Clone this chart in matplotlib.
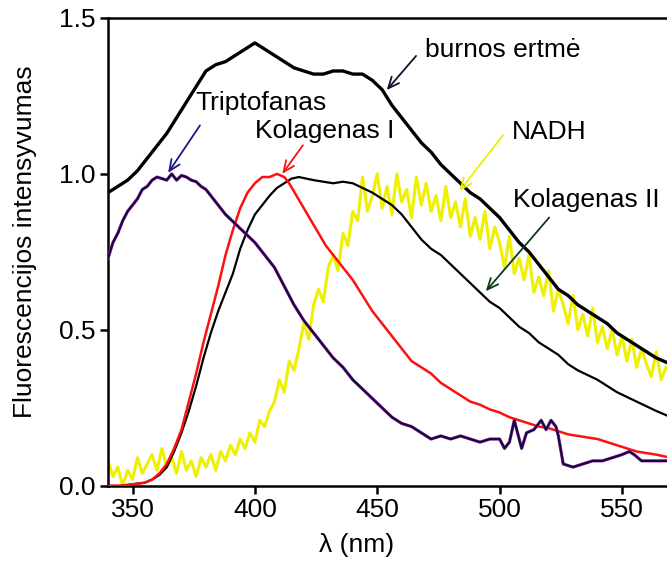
import matplotlib
matplotlib.use("Agg")
import matplotlib.pyplot as plt

plt.rcParams['font.family'] = ['Liberation Sans', 'DejaVu Sans']

# burnos ertme (thick black)
burnos_x = [340, 344, 348, 352, 356, 360, 364, 368, 372, 376, 380, 384, 388, 392, 396, 400,
            404, 408, 412, 416, 420, 424, 428, 432, 436, 440, 444, 448, 452, 456, 460, 464,
            468, 472, 476, 480, 484, 488, 492, 496, 500, 504, 508, 512, 516, 520, 524, 528,
            532, 536, 540, 544, 548, 552, 556, 560, 564, 570]
burnos_y = [0.94, 0.96, 0.98, 1.01, 1.05, 1.09, 1.13, 1.18, 1.23, 1.28, 1.33, 1.35, 1.36, 1.38, 1.40, 1.42,
            1.40, 1.38, 1.36, 1.34, 1.33, 1.32, 1.32, 1.33, 1.33, 1.32, 1.32, 1.30, 1.27, 1.22, 1.18, 1.14,
            1.10, 1.07, 1.03, 1.00, 0.97, 0.94, 0.92, 0.89, 0.86, 0.82, 0.78, 0.75, 0.71, 0.67, 0.63, 0.61,
            0.58, 0.56, 0.54, 0.52, 0.49, 0.47, 0.45, 0.43, 0.41, 0.39]

# Triptofanas (navy)
trp_x = [340, 342, 344, 346, 348, 350, 352, 354, 356, 358, 360, 364, 366, 368, 370, 372, 374, 376,
         378, 380, 382, 384, 388, 392, 396, 400, 404, 408, 412, 416, 420, 424, 428, 432, 436, 440,
         444, 448, 452, 456, 460, 464, 468, 472, 476, 480, 484, 488, 492, 496, 500, 502, 504, 506,
         508, 509, 511, 514, 517, 519, 521, 523, 524, 526, 530, 534, 538, 542, 546, 550, 553, 555,
         558, 562, 570]
trp_y = [0.73, 0.78, 0.81, 0.85, 0.88, 0.90, 0.92, 0.95, 0.96, 0.98, 0.99, 0.98, 1.00, 0.98, 0.995, 0.99, 0.98, 0.975,
         0.96, 0.95, 0.93, 0.91, 0.87, 0.84, 0.81, 0.78, 0.74, 0.70, 0.64, 0.58, 0.53, 0.49, 0.45, 0.41, 0.38, 0.34,
         0.31, 0.28, 0.25, 0.22, 0.20, 0.19, 0.17, 0.15, 0.16, 0.15, 0.16, 0.15, 0.14, 0.15, 0.15, 0.12, 0.14, 0.21,
         0.15, 0.12, 0.17, 0.18, 0.21, 0.18, 0.21, 0.19, 0.16, 0.07, 0.06, 0.07, 0.08, 0.08, 0.09, 0.10, 0.11, 0.10,
         0.08, 0.08, 0.08]

# Kolagenas I (red)
kol1_x = [340, 345, 350, 355, 358, 361, 364, 367, 370, 373, 376, 379, 382, 385, 388, 391, 394, 397,
          400, 403, 406, 409, 412, 414, 417, 420, 423, 426, 429, 432, 436, 440, 444, 448, 452, 456,
          460, 464, 468, 472, 476, 480, 484, 488, 492, 496, 500, 504, 508, 512, 516, 520, 524, 528,
          532, 536, 540, 544, 548, 552, 556, 560, 564, 570]
kol1_y = [0.00, 0.00, 0.005, 0.01, 0.02, 0.04, 0.07, 0.12, 0.18, 0.27, 0.36, 0.46, 0.55, 0.64, 0.74, 0.82, 0.89, 0.94,
          0.97, 0.99, 0.99, 1.00, 0.99, 0.97, 0.93, 0.89, 0.85, 0.81, 0.77, 0.74, 0.70, 0.66, 0.61, 0.56, 0.52, 0.48,
          0.44, 0.40, 0.38, 0.36, 0.33, 0.31, 0.29, 0.27, 0.26, 0.245, 0.235, 0.22, 0.21, 0.20, 0.19, 0.185, 0.175, 0.165,
          0.16, 0.155, 0.15, 0.14, 0.13, 0.12, 0.11, 0.105, 0.10, 0.09]

# Kolagenas II (thin black)
kol2_x = [340, 345, 350, 355, 358, 361, 364, 367, 370, 373, 376, 379, 382, 385, 388, 391, 394, 397,
          400, 403, 406, 409, 412, 415, 418, 421, 424, 428, 432, 436, 440, 444, 448, 452, 456, 460,
          464, 468, 472, 476, 480, 484, 488, 492, 496, 500, 504, 508, 512, 516, 520, 524, 528, 532,
          536, 540, 544, 548, 552, 556, 560, 564, 570]
kol2_y = [0.00, 0.00, 0.005, 0.01, 0.02, 0.035, 0.06, 0.11, 0.17, 0.24, 0.32, 0.41, 0.49, 0.56, 0.62, 0.68, 0.76, 0.82,
          0.87, 0.90, 0.93, 0.955, 0.97, 0.985, 0.99, 0.985, 0.98, 0.975, 0.97, 0.975, 0.97, 0.955, 0.94, 0.92, 0.90, 0.87,
          0.83, 0.79, 0.76, 0.74, 0.71, 0.68, 0.65, 0.62, 0.59, 0.57, 0.54, 0.51, 0.49, 0.46, 0.44, 0.42, 0.39, 0.37,
          0.355, 0.34, 0.32, 0.30, 0.285, 0.27, 0.255, 0.24, 0.22]

# NADH (yellow, noisy), one value every 2 nm from 340 nm
nadh_y = [0.08, 0.03, 0.06, 0.00, 0.05, 0.02, 0.09, 0.04, 0.07, 0.10, 0.05, 0.12, 0.06, 0.09, 0.04, 0.11,
          0.05, 0.08, 0.03, 0.09, 0.06, 0.10, 0.05, 0.11, 0.08, 0.13, 0.10, 0.15, 0.12, 0.17, 0.14, 0.21,
          0.19, 0.24, 0.27, 0.34, 0.30, 0.40, 0.37, 0.44, 0.52, 0.47, 0.58, 0.63, 0.59, 0.70, 0.74, 0.69,
          0.81, 0.77, 0.88, 0.85, 0.99, 0.88, 0.93, 1.00, 0.89, 0.96, 0.87, 1.00, 0.91, 0.95, 0.86, 0.99,
          0.90, 0.97, 0.88, 0.93, 0.85, 0.96, 0.86, 0.91, 0.83, 0.92, 0.80, 0.86, 0.79, 0.88, 0.76, 0.83,
          0.78, 0.70, 0.80, 0.68, 0.73, 0.66, 0.74, 0.62, 0.67, 0.61, 0.69, 0.56, 0.63, 0.58, 0.52, 0.61,
          0.50, 0.55, 0.48, 0.57, 0.46, 0.51, 0.44, 0.50, 0.42, 0.48, 0.40, 0.47, 0.38, 0.44, 0.39, 0.35,
          0.43, 0.34, 0.38, 0.36]
nadh_x = list(range(340, 340 + 2 * len(nadh_y), 2))

xticks = [350, 400, 450, 500, 550]
yticks = [0.0, 0.5, 1.0, 1.5]
ytick_labels = ['0.0', '0.5', '1.0', '1.5']

fig = plt.figure(figsize=(6.67, 5.61), dpi=100)
ax = fig.add_axes([0.162, 0.134, 0.838, 0.834])

ax.plot(nadh_x, nadh_y, color='#eef000', lw=2.2, zorder=2)
ax.plot(kol2_x, kol2_y, color='black', lw=1.6, zorder=3)
ax.plot(kol1_x, kol1_y, color='#ff1010', lw=1.8, zorder=4)
ax.plot(trp_x, trp_y, color='#b030b0', lw=2.3, zorder=4)
ax.plot(trp_x, trp_y, color='#140a40', lw=1.6, zorder=5)
ax.plot(burnos_x, burnos_y, color='black', lw=2.4, zorder=5)

ax.set_xlim(340, 568.4)
ax.set_ylim(0, 1.5)
ax.set_xticks(xticks)
ax.set_yticks(yticks)
ax.set_yticklabels(ytick_labels)
ax.tick_params(direction='out', length=6, width=1.8, labelsize=19, pad=3)
for s in ['left', 'bottom', 'top']:
    ax.spines[s].set_linewidth(1.8)
ax.spines['right'].set_visible(False)

ax.set_xlabel('λ (nm)', fontsize=19, labelpad=8, x=0.445)
ax.set_ylabel('Fluorescencijos intensyvumas', fontsize=19, labelpad=16, y=0.521)

notes = [
    ('burnos ertmė', (469.4, 1.397), (466.6, 1.385), (453.1, 1.262), '#101030'),
    ('Triptofanas', (375.8, 1.227), (378.2, 1.163), (363.9, 0.996), '#1a1a80'),
    ('Kolagenas I', (399.9, 1.137), (420.3, 1.099), (410.5, 0.993), '#ff1010'),
    ('NADH', (505.0, 1.134), (502.1, 1.131), (482.9, 0.938), '#eef000'),
    ('Kolagenas II', (505.4, 0.916), (521.0, 0.867), (493.6, 0.617), '#0a3a1a'),
]
for txt, tpos, start, end, col in notes:
    ax.text(tpos[0], tpos[1], txt, fontsize=19, va='center', ha='left', zorder=6)
    ax.annotate('', xy=end, xytext=start,
                arrowprops=dict(arrowstyle='->,head_length=0.8,head_width=0.35',
                                color=col, lw=1.3), zorder=6)

fig.savefig('out.png', dpi=100)
